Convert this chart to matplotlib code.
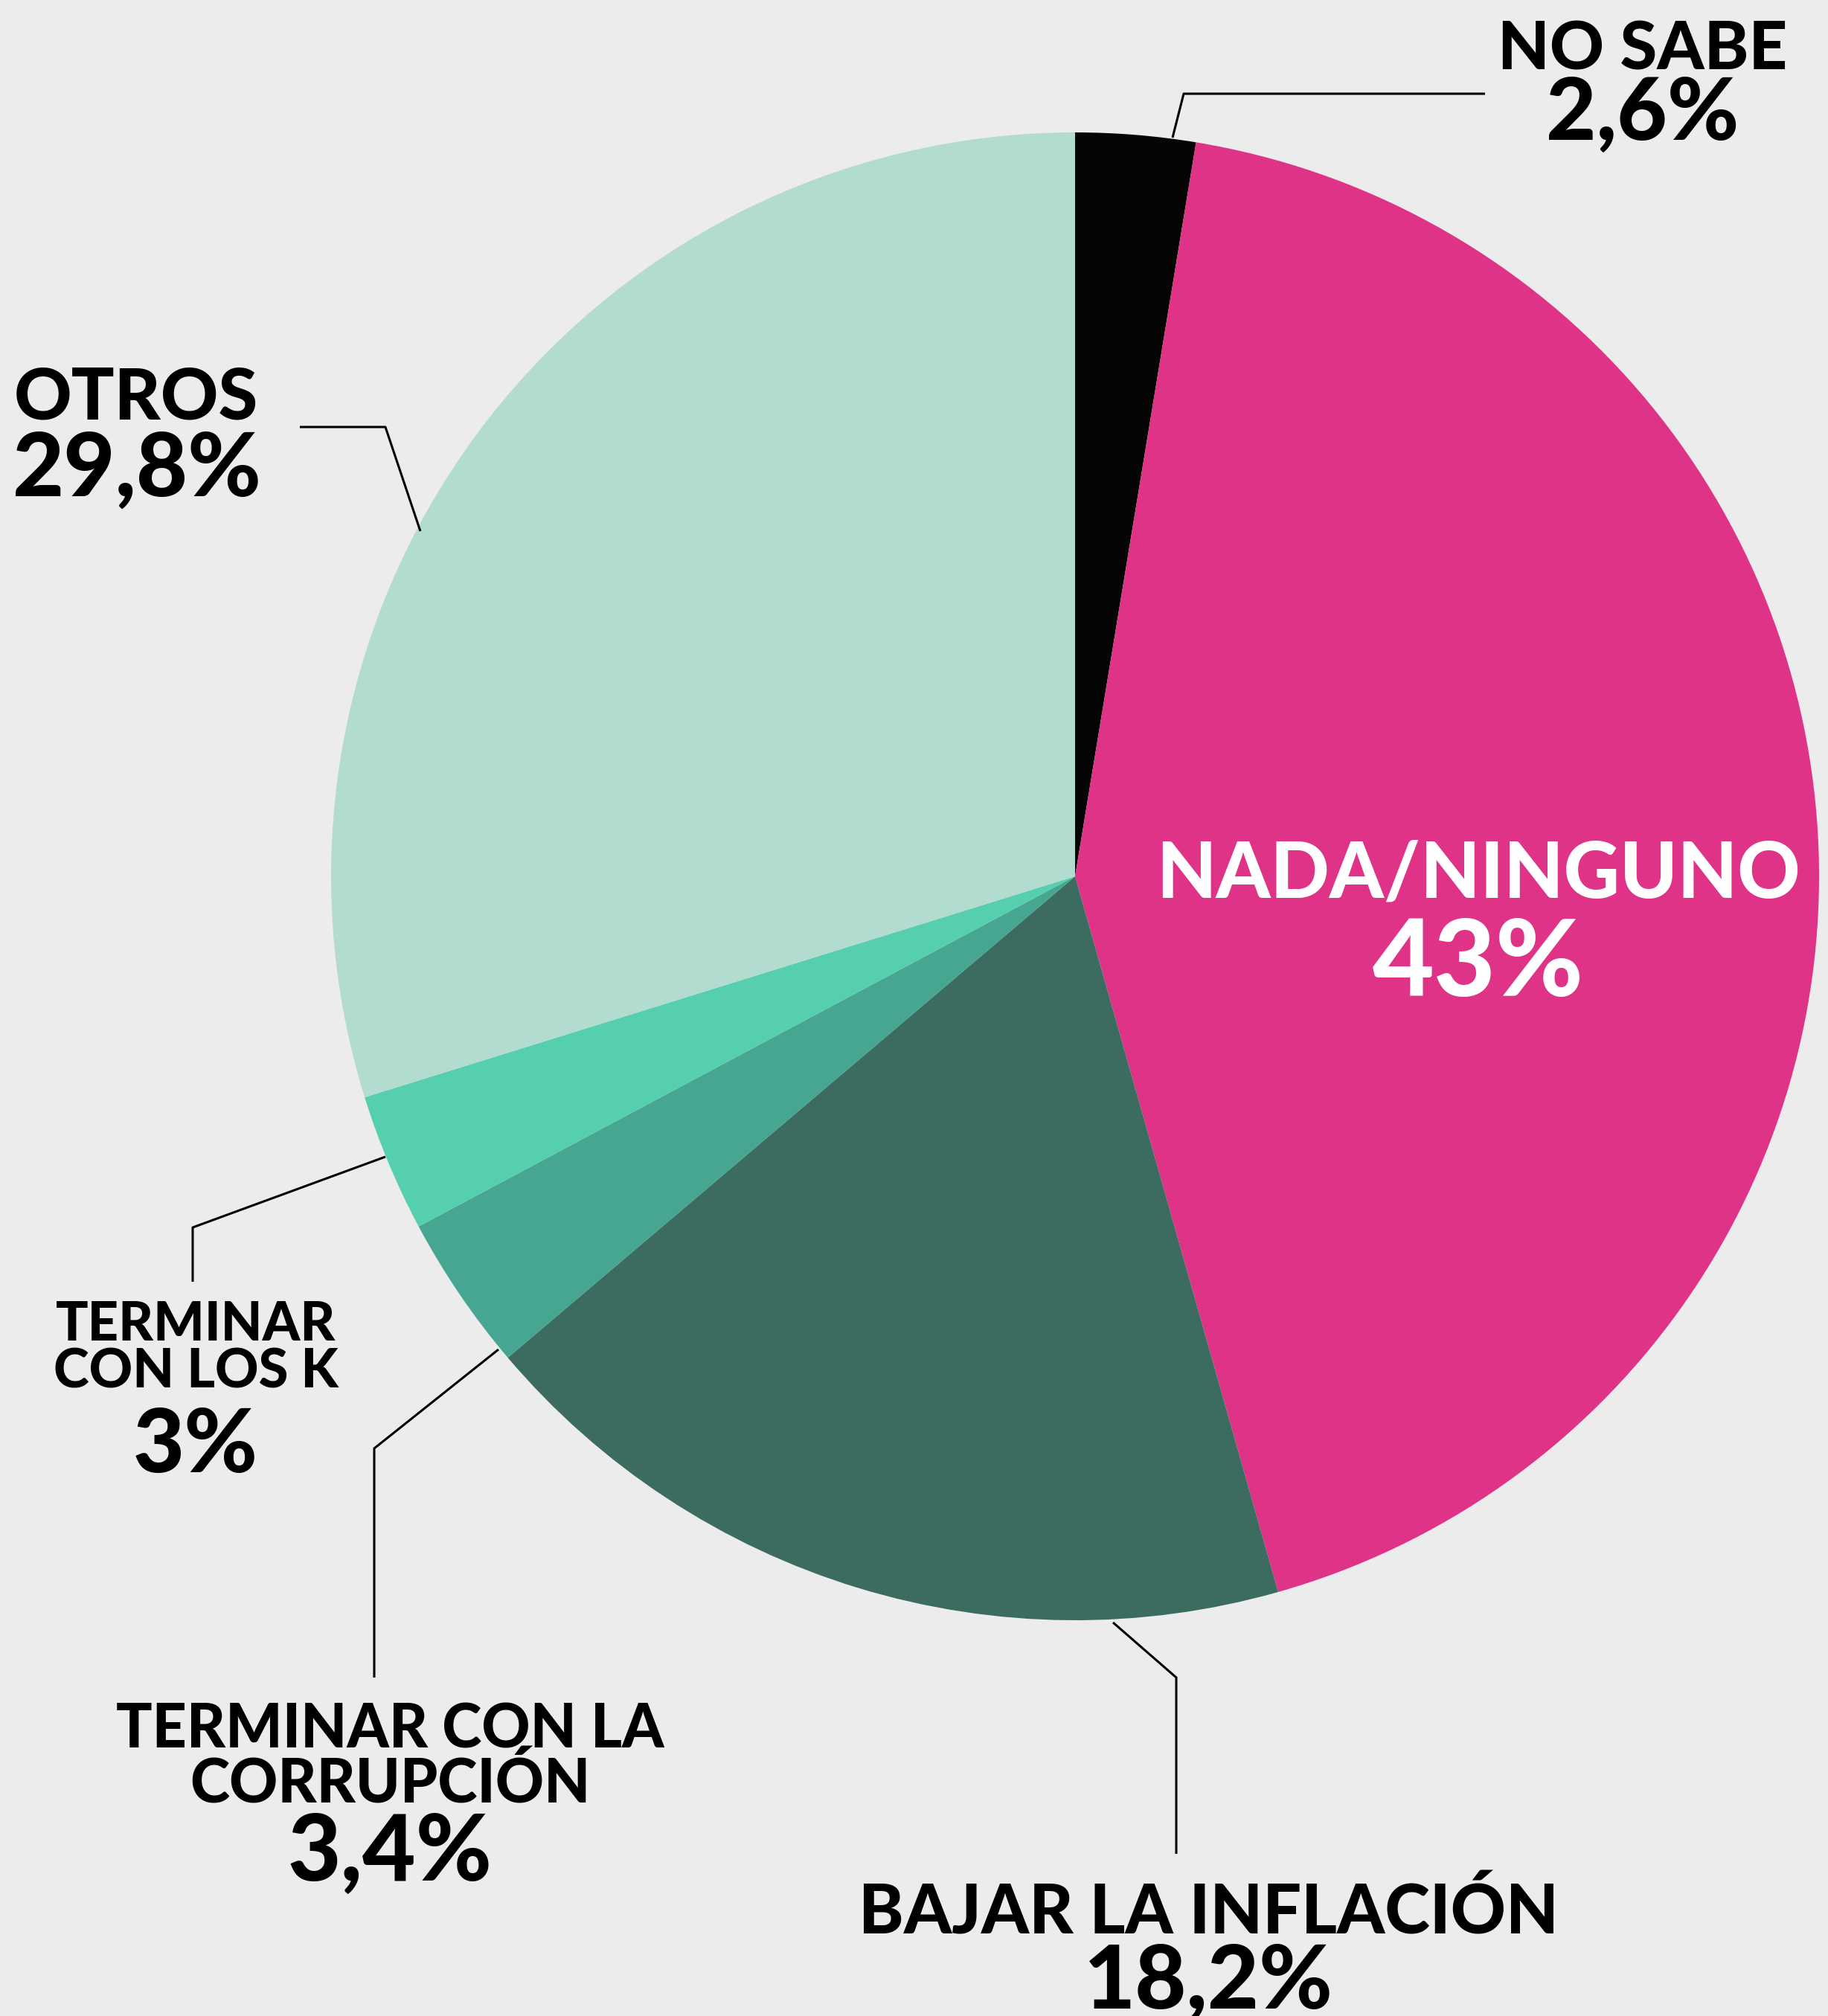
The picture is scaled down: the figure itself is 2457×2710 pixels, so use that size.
import matplotlib
matplotlib.use("Agg")
import matplotlib.pyplot as plt

# ---- data ----
categories = ["NO SABE", "NADA/NINGUNO", "BAJAR LA INFLACIÓN",
              "TERMINAR CON LA CORRUPCIÓN", "TERMINAR CON LOS K", "OTROS"]
values = [2.6, 43.0, 18.2, 3.4, 3.0, 29.8]
value_labels = ["2,6%", "43%", "18,2%", "3,4%", "3%", "29,8%"]
colors = ["#050505", "#de3387", "#3c6c5f", "#46a692", "#56cfae", "#b2dccf"]

W, H = 2457, 2710
fig = plt.figure(figsize=(W / 100, H / 100), dpi=100)
fig.patch.set_facecolor("#ececec")
ax = fig.add_axes([0, 0, 1, 1])

FONT = "Lato"

def Y(y):  # top-down pixel -> axis coords
    return H - y

cx, cy, R = 1445, Y(1178), 1000
ax.pie(values, colors=colors, startangle=90, counterclock=False,
       center=(cx, cy), radius=R, frame=True,
       wedgeprops=dict(linewidth=0))
ax.set_xlim(0, W)
ax.set_ylim(0, H)
ax.set_aspect("equal")
ax.axis("off")

def txt(x, y, s, size, color="black", ha="center"):
    ax.text(x, Y(y), s, fontsize=size, color=color, ha=ha, va="baseline",
            family=FONT, fontweight="black")

def leader(pts):
    xs = [p[0] for p in pts]
    ys = [Y(p[1]) for p in pts]
    ax.plot(xs, ys, color="black", lw=2.2, solid_capstyle="butt")

# NO SABE
leader([(1576, 185), (1591, 126), (1996, 126)])
txt(2208, 94, categories[0], 65)
txt(2208, 188, value_labels[0], 84)

# NADA/NINGUNO
txt(1987, 1206, categories[1], 75, "white")
txt(1987, 1339, value_labels[1], 103, "white")

# BAJAR LA INFLACION
leader([(1496, 2181), (1581, 2255), (1581, 2492)])
txt(1624, 2600, categories[2], 66)
txt(1624, 2700, value_labels[2], 86)

# CORRUPCION
leader([(670, 1814), (503, 1947), (503, 2255)])
txt(524, 2350, "TERMINAR CON LA", 58)
txt(524, 2424, "CORRUPCIÓN", 58)
txt(524, 2528, value_labels[3], 89)

# LOS K
leader([(518, 1555), (259, 1650), (259, 1723)])
txt(263, 1802, "TERMINAR", 52)
txt(263, 1866, "CON LOS K", 52)
txt(263, 1979, value_labels[4], 86)

# OTROS
leader([(565, 714), (518, 574), (403, 574)])
txt(19, 563, categories[5], 69, ha="left")
txt(17, 667, value_labels[5], 86, ha="left")

fig.savefig("out.png", dpi=100, facecolor=fig.get_facecolor())
